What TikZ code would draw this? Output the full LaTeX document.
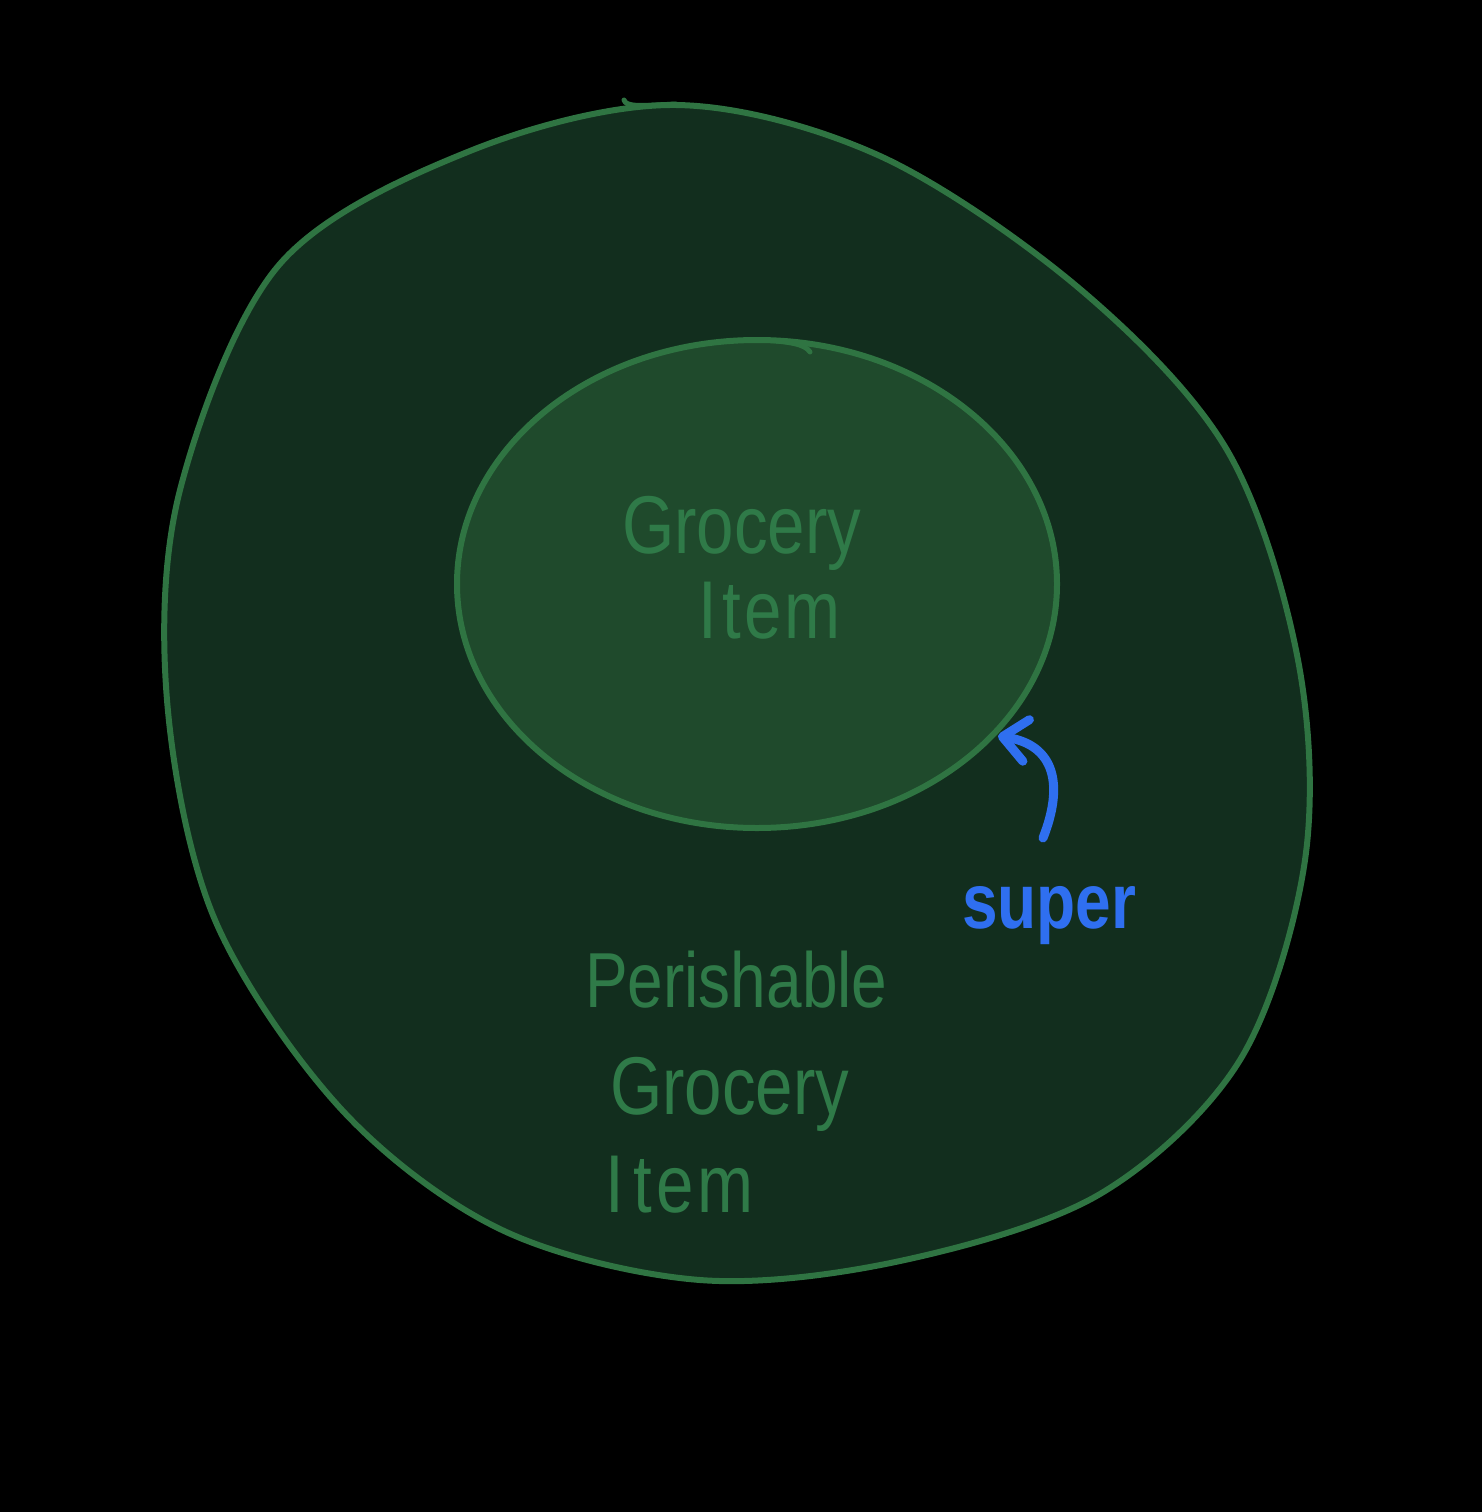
\documentclass[tikz,border=0pt]{standalone}
\usepackage{fontspec}
\setmainfont{Liberation Sans}
\newfontfamily\handfont[FakeStretch=0.82]{Liberation Sans}
\newfontfamily\handbold[FakeStretch=0.82]{Liberation Sans Bold}
\usetikzlibrary{shapes.geometric,arrows.meta}
\definecolor{bgblack}{HTML}{000000}
\definecolor{outerfill}{HTML}{122E1E}
\definecolor{innerfill}{HTML}{1F4A2C}
\definecolor{rimgreen}{HTML}{2F7442}
\definecolor{textgreen}{HTML}{2F7A48}
\definecolor{superblue}{HTML}{2F6FF0}
\tikzset{
  rim/.style={draw=rimgreen, line width=6pt, line cap=round, line join=round},
  handtext/.style={text=textgreen, font=\handfont\fontsize{82}{90}\selectfont, inner sep=0pt, anchor=base west},
  bluetext/.style={text=superblue, font=\handbold\fontsize{78}{86}\selectfont, inner sep=0pt, anchor=base west},
  bluearrow/.style={draw=superblue, line width=9pt, line cap=round, line join=round,
    -{Straight Barb[length=24pt,width=42pt,line width=9pt,round]}}
}
\begin{document}
\begin{tikzpicture}[x=1pt,y=-1pt]
\useasboundingbox (0,0) rectangle (1482,1512);
\fill[bgblack] (0,0) rectangle (1482,1512);
% outer blob
\path[rim, fill=outerfill] plot[smooth cycle, tension=0.55] coordinates {
 (676,105) (880,156) (1080,289) (1227,450) (1298,660) (1305,860)
 (1240,1060) (1100,1194) (900,1261) (700,1280) (502,1230) (342,1110)
 (215,920) (167,700) (180,490) (279,265) (470,151)};
\draw[rim, line width=5pt] (624,100) .. controls (626,107) and (640,106) .. (676,104);
% inner ellipse
\node[rim, fill=innerfill, ellipse, minimum width=600pt, minimum height=488pt, inner sep=0pt]
  (inner) at (757,584) {};
\draw[rim, line width=5pt] (765,340) .. controls (790,342) and (805,344) .. (810,352);
\node[handtext] (grocery) at (622,553) {Grocery};
\node[handtext] (item) at (698,638) {I\hspace{6pt}t\hspace{3pt}e\hspace{3pt}m};
\node[handtext, font=\handfont\fontsize{78}{86}\selectfont] (perish) at (585,1007) {Perishable};
\node[handtext] (grocery2) at (610,1114) {Grocery};
\node[handtext] (item2) at (605,1212) {I\hspace{10pt}t\hspace{4pt}e\hspace{4pt}m};
\node[bluetext] (super) at (962,928) {super};
\coordinate (tip) at (998,736);
\draw[bluearrow] (1043,838) .. controls (1064,785) and (1055,745) .. (tip);
\end{tikzpicture}
\end{document}
